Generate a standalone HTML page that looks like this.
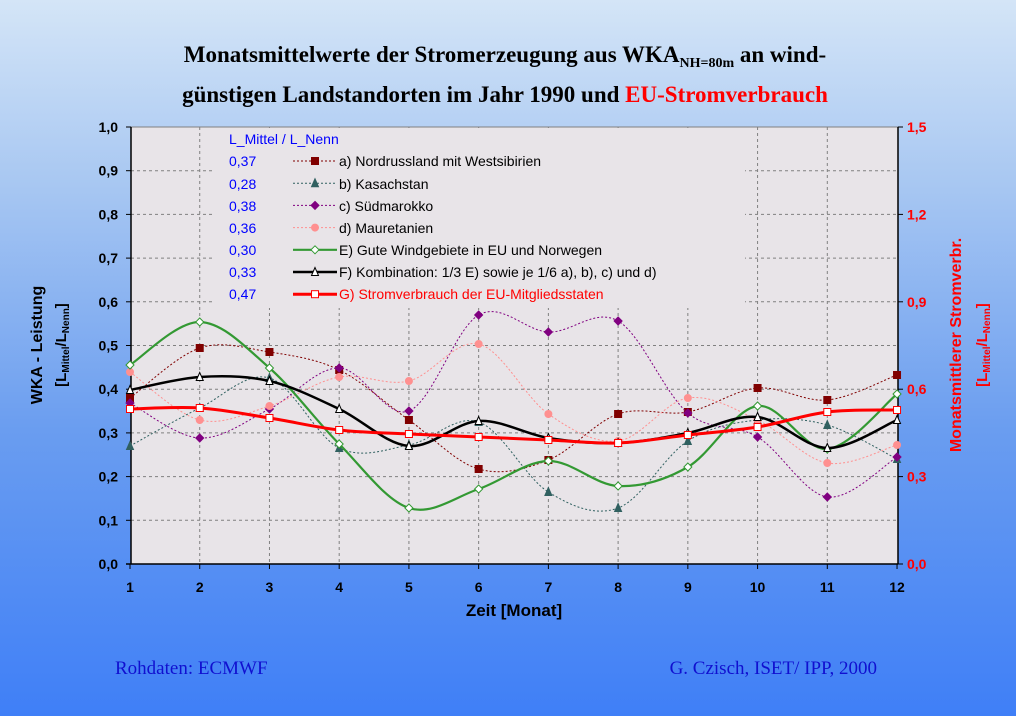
<!DOCTYPE html>
<html><head><meta charset="utf-8"><style>
html,body{margin:0;padding:0}
body{width:1016px;height:716px;overflow:hidden;background:linear-gradient(to bottom,#d4e5f7 0%,#a9c8f2 25%,#6a9df0 60%,#3f7ff7 100%);font-family:"Liberation Sans",sans-serif;}
</style></head><body>
<svg width="1016" height="716" xmlns="http://www.w3.org/2000/svg" style="position:absolute;left:0;top:0">
<text x="505" y="62" font-family="Liberation Serif" font-weight="bold" font-size="23" text-anchor="middle">Monatsmittelwerte der Stromerzeugung aus WKA<tspan font-size="14" dy="5">NH=80m</tspan><tspan dy="-5"> an wind-</tspan></text>
<text x="505" y="102" font-family="Liberation Serif" font-weight="bold" font-size="23" text-anchor="middle">günstigen Landstandorten im Jahr 1990 und <tspan fill="#ff0000">EU-Stromverbrauch</tspan></text>
<rect x="131" y="127" width="767" height="437" fill="#e8e4e8"/>
<g id="grid" stroke="#808080" stroke-dasharray="3,3" stroke-width="1"></g>
<rect x="212" y="128" width="533" height="180" fill="#e8e4e8"/>
<line x1="131" y1="127" x2="898" y2="127" stroke="#808080"/>
<line x1="131" y1="127" x2="131" y2="564" stroke="#000" stroke-width="1.5"/>
<line x1="898" y1="127" x2="898" y2="564" stroke="#000" stroke-width="1.5"/>
<line x1="126" y1="564" x2="898" y2="564" stroke="#000" stroke-width="1.5"/>
<g id="ticks"></g>
<g id="series"></g>
<g font-size="14" fill="#0000ff">
<text x="229" y="144">L_Mittel / L_Nenn</text>
<text x="229" y="166">0,37</text><text x="229" y="189">0,28</text><text x="229" y="211">0,38</text><text x="229" y="233">0,36</text><text x="229" y="255">0,30</text><text x="229" y="277">0,33</text><text x="229" y="299">0,47</text>
</g>
<g font-size="14" fill="#000">
<text x="339" y="166">a) Nordrussland mit Westsibirien</text>
<text x="339" y="189">b) Kasachstan</text>
<text x="339" y="211">c) Südmarokko</text>
<text x="339" y="233">d) Mauretanien</text>
<text x="339" y="255">E) Gute Windgebiete in EU und Norwegen</text>
<text x="339" y="277">F) Kombination: 1/3 E) sowie je 1/6 a), b), c) und d)</text>
<text x="339" y="299" fill="#ff0000">G) Stromverbrauch der EU-Mitgliedsstaten</text>
</g>
<g id="leg"></g>
<text x="514" y="616" font-weight="bold" font-size="17" text-anchor="middle">Zeit  [Monat]</text>
<text transform="translate(42,345) rotate(-90)" font-weight="bold" font-size="16" text-anchor="middle">WKA - Leistung</text>
<text transform="translate(66,345) rotate(-90)" font-weight="bold" font-size="15" text-anchor="middle">[L<tspan font-size="10" dy="3">Mittel</tspan><tspan dy="-3">/L</tspan><tspan font-size="10" dy="3">Nenn</tspan><tspan dy="-3">]</tspan></text>
<text transform="translate(961,345) rotate(-90)" font-weight="bold" font-size="16" fill="#ff0000" text-anchor="middle">Monatsmittlerer Stromverbr.</text>
<text transform="translate(987,345) rotate(-90)" font-weight="bold" font-size="15" fill="#ff0000" text-anchor="middle">[L<tspan font-size="10" dy="3">Mittel</tspan><tspan dy="-3">/L</tspan><tspan font-size="10" dy="3">Nenn</tspan><tspan dy="-3">]</tspan></text>
<text x="115" y="674" font-family="Liberation Serif" font-size="19" fill="#1010d0">Rohdaten: ECMWF</text>
<text x="877" y="674" font-family="Liberation Serif" font-size="19" fill="#1010d0" text-anchor="end">G. Czisch, ISET/ IPP, 2000</text>
</svg>
<script>
var NS="http://www.w3.org/2000/svg";
function el(p,t,a){var e=document.createElementNS(NS,t);for(var k in a)e.setAttribute(k,a[k]);p.appendChild(e);return e;}
var X=function(m){return 130+(m-1)*69.73;};
var grid=document.getElementById('grid'),ticks=document.getElementById('ticks');
for(var i=1;i<=9;i++){var y=564-i*43.7;el(grid,'line',{x1:131,y1:y,x2:898,y2:y});}
for(var m=2;m<=11;m++){el(grid,'line',{x1:X(m),y1:127,x2:X(m),y2:564});}
for(var i=0;i<=10;i++){var y=564-i*43.7;el(ticks,'line',{x1:126,y1:y,x2:131,y2:y,stroke:'#000'});
 var t=el(ticks,'text',{x:118,y:y+5,'font-size':14,'font-weight':'bold','text-anchor':'end'});t.textContent=(i/10).toFixed(1).replace('.',',');}
for(var i=0;i<=5;i++){var y=564-i*87.4;el(ticks,'line',{x1:898,y1:y,x2:903,y2:y,stroke:'#000'});
 var t=el(ticks,'text',{x:907,y:y+5,'font-size':14,'font-weight':'bold',fill:'#ff0000'});t.textContent=(i*0.3).toFixed(1).replace('.',',');}
for(var m=1;m<=12;m++){el(ticks,'line',{x1:X(m),y1:564,x2:X(m),y2:569,stroke:'#000'});
 var t=el(ticks,'text',{x:X(m),y:592,'font-size':14,'font-weight':'bold','text-anchor':'middle'});t.textContent=m;}
var S=[
 {c:'#800000',w:1,d:'2,2',mk:'sq',f:'#800000',y:[398,348,352,370,420,469,460,414,412,388,400,375]},
 {c:'#306060',w:1,d:'2,2',mk:'tri',f:'#306060',y:[446,408,378,448,445,422,492,508,441,420,425,459]},
 {c:'#800080',w:1,d:'2,2',mk:'dia',f:'#800080',y:[403,438,409,368,411,315,332,321,413,437,497,457]},
 {c:'#ff9090',w:1,d:'2,2',mk:'cir',f:'#ff9090',y:[372,420,406,377,381,344,414,441,398,420,463,445]},
 {c:'#339933',w:2.2,d:'',mk:'dia',f:'#fff',y:[365,322,368,444,508,489,461,486,467,406,449,394]},
 {c:'#000',w:2.5,d:'',mk:'tri',f:'#fff',y:[390,377,381,409,446,421,438,443,433,417,448,420]},
 {c:'#ff0000',w:3,d:'',mk:'sq',f:'#fff',y:[409,408,418,430,434,437,440,443,435,427,412,410]}];
var g=document.getElementById('series'),lg=document.getElementById('leg');
function marker(p,k,x,y,c,f){var s=3.5;
 if(k=='sq')el(p,'rect',{x:x-s,y:y-s,width:2*s,height:2*s,fill:f,stroke:c,'stroke-width':1});
 else if(k=='tri')el(p,'polygon',{points:(x)+','+(y-s-1)+' '+(x-s)+','+(y+s)+' '+(x+s)+','+(y+s),fill:f,stroke:c,'stroke-width':1});
 else if(k=='dia')el(p,'polygon',{points:x+','+(y-4)+' '+(x+4)+','+y+' '+x+','+(y+4)+' '+(x-4)+','+y,fill:f,stroke:c,'stroke-width':1});
 else el(p,'circle',{cx:x,cy:y,r:3.5,fill:f,stroke:c});}
S.forEach(function(s,idx){var P=s.y.map(function(v,i){return[X(i+1),v];});
 var d='M'+P[0][0]+','+P[0][1];
 for(var i=0;i<P.length-1;i++){var p0=P[Math.max(0,i-1)],p1=P[i],p2=P[i+1],p3=P[Math.min(P.length-1,i+2)];
  var c1=[p1[0]+(p2[0]-p0[0])/6,p1[1]+(p2[1]-p0[1])/6],c2=[p2[0]-(p3[0]-p1[0])/6,p2[1]-(p3[1]-p1[1])/6];
  d+=' C'+c1+' '+c2+' '+p2;}
 var a={d:d,fill:'none',stroke:s.c,'stroke-width':s.w};if(s.d)a['stroke-dasharray']=s.d;el(g,'path',a);
 P.forEach(function(p){marker(g,s.mk,p[0],p[1],s.c,s.f);});
 var ly=161+idx*22.2;var la={x1:293,y1:ly,x2:337,y2:ly,stroke:s.c,'stroke-width':s.w};if(s.d)la['stroke-dasharray']=s.d;
 el(lg,'line',la);marker(lg,s.mk,315,ly,s.c,s.f);});
</script>
</body></html>
